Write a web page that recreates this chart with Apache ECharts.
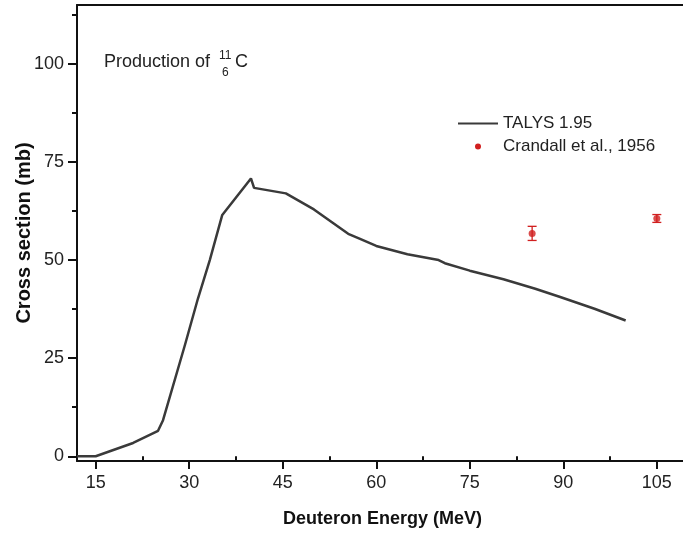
<!DOCTYPE html>
<html>
<head>
<meta charset="utf-8">
<script src="https://cdn.jsdelivr.net/npm/echarts@6/dist/echarts.min.js"></script>
<style>
html,body{margin:0;padding:0;background:#fff;}
#chart{width:683px;height:536px;}
</style>
</head>
<body>
<div id="chart"></div>
<script>
// TALYS 1.95 curve (Deuteron energy in MeV, cross section in mb)
var talysEnergy = [12, 15, 21, 25, 25.8, 29.3, 31.4, 33.3, 35.3, 39.9, 40.4, 45.5, 50, 55.5, 57.4, 60, 65, 70, 71, 75, 80.4, 85.5, 89.5, 95, 100];
var talysXS     = [0, 0, 3.4, 6.5, 9.2, 28.3, 40.2, 50, 61.5, 70.8, 68.4, 67.0, 62.9, 56.7, 55.4, 53.6, 51.5, 50.0, 49.2, 47.3, 45.1, 42.7, 40.6, 37.6, 34.6];
// Crandall et al., 1956 experimental points
var expEnergy = [85, 105];
var expXS     = [56.8, 60.6];
var expErr    = [1.8, 1.0];
// Axis ticks
var xTickLabels = [15, 30, 45, 60, 75, 90, 105];
var xMinorTicks = [22.5, 37.5, 52.5, 67.5, 82.5, 97.5];
var yTickLabels = [0, 25, 50, 75, 100];
var yMinorTicks = [12.5, 37.5, 62.5, 87.5, 112.5];

var FONT = "'Liberation Sans', Arial, sans-serif";
var AXC = '#111';
var RED = '#d11f1f';

var talysData = talysEnergy.map(function (e, i) { return [e, talysXS[i]]; });
var expData = expEnergy.map(function (e, i) { return [e, expXS[i]]; });
var errData = expEnergy.map(function (e, i) { return [e, expXS[i], expXS[i] - expErr[i], expXS[i] + expErr[i]]; });

var chart = echarts.init(document.getElementById('chart'));
var xMin = 12, xMax = 110, yMin = -1.2, yMax = 115;

var option = {
  animation: false,
  backgroundColor: '#fff',
  grid: { left: 77, width: 611, top: 5, height: 456, containLabel: false, outerBoundsMode: 'none' },
  xAxis: [
    {
      type: 'value', min: xMin, max: xMax, position: 'bottom',
      name: 'Deuteron Energy (MeV)', nameLocation: 'middle', nameGap: 49,
      nameTextStyle: { fontFamily: FONT, fontSize: 18, fontWeight: 'bold', color: '#111' },
      axisLine: { show: true, onZero: false, lineStyle: { color: AXC, width: 2 } },
      axisTick: { show: true, inside: false, length: 8, customValues: xTickLabels, lineStyle: { color: AXC, width: 2 } },
      axisLabel: { show: true, customValues: xTickLabels, margin: 13, fontFamily: FONT, fontSize: 18, color: '#222' },
      splitLine: { show: false }
    },
    {
      type: 'value', min: xMin, max: xMax, position: 'bottom',
      axisLine: { show: false },
      axisTick: { show: true, length: 4, customValues: xMinorTicks, lineStyle: { color: AXC, width: 2 } },
      axisLabel: { show: false },
      splitLine: { show: false }
    },
    {
      type: 'value', min: xMin, max: xMax, position: 'top',
      axisLine: { show: true, onZero: false, lineStyle: { color: AXC, width: 2 } },
      axisTick: { show: false }, axisLabel: { show: false }, splitLine: { show: false }
    }
  ],
  yAxis: [
    {
      type: 'value', min: yMin, max: yMax, position: 'left',
      name: 'Cross section (mb)', nameLocation: 'middle', nameGap: 43, nameMoveOverlap: false,
      nameTextStyle: { fontFamily: FONT, fontSize: 20, fontWeight: 'bold', color: '#111' },
      axisLine: { show: true, onZero: false, lineStyle: { color: AXC, width: 2 } },
      axisTick: { show: true, length: 9, customValues: yTickLabels, lineStyle: { color: AXC, width: 2 } },
      axisLabel: { show: true, customValues: yTickLabels, margin: 13, fontFamily: FONT, fontSize: 18, color: '#222' },
      splitLine: { show: false }
    },
    {
      type: 'value', min: yMin, max: yMax, position: 'left',
      axisLine: { show: false },
      axisTick: { show: true, length: 5, customValues: yMinorTicks, lineStyle: { color: AXC, width: 2 } },
      axisLabel: { show: false },
      splitLine: { show: false }
    }
  ],
  legend: {
    orient: 'vertical', left: 457, top: 115, padding: 0,
    itemWidth: 40, itemHeight: 6, itemGap: 6,
    textStyle: { fontFamily: FONT, fontSize: 17, color: '#222' },
    data: [
      { name: 'TALYS 1.95', itemStyle: { color: 'rgba(0,0,0,0)', borderWidth: 0 } },
      { name: 'Crandall et al., 1956', icon: 'circle' }
    ]
  },
  graphic: [
    { type: 'text', style: { x: 104, y: 62, text: 'Production of', font: '18px ' + FONT, fill: '#222', verticalAlign: 'middle' } },
    { type: 'text', style: { x: 219, y: 56, text: '11', font: '12px ' + FONT, fill: '#222', verticalAlign: 'middle' } },
    { type: 'text', style: { x: 222, y: 73, text: '6', font: '12px ' + FONT, fill: '#222', verticalAlign: 'middle' } },
    { type: 'text', style: { x: 235, y: 62, text: 'C', font: '18px ' + FONT, fill: '#222', verticalAlign: 'middle' } }
  ],
  series: [
    {
      name: 'TALYS 1.95', type: 'line', data: talysData, symbol: 'none',
      xAxisIndex: 0, yAxisIndex: 0,
      lineStyle: { color: '#3a3a3a', width: 2.5 }, itemStyle: { color: '#3a3a3a' }
    },
    {
      name: 'Crandall et al., 1956', type: 'custom', data: errData,
      xAxisIndex: 0, yAxisIndex: 0,
      renderItem: function (params, api) {
        var x = api.value(0);
        var pLo = api.coord([x, api.value(2)]);
        var pHi = api.coord([x, api.value(3)]);
        var w = 4.5;
        var st = { stroke: RED, lineWidth: 1.3 };
        return {
          type: 'group',
          children: [
            { type: 'line', shape: { x1: pLo[0], y1: pLo[1], x2: pHi[0], y2: pHi[1] }, style: st },
            { type: 'line', shape: { x1: pLo[0] - w, y1: pLo[1], x2: pLo[0] + w, y2: pLo[1] }, style: st },
            { type: 'line', shape: { x1: pHi[0] - w, y1: pHi[1], x2: pHi[0] + w, y2: pHi[1] }, style: st }
          ]
        };
      },
      itemStyle: { color: RED }
    },
    {
      name: 'Crandall et al., 1956', type: 'scatter', data: expData,
      xAxisIndex: 0, yAxisIndex: 0,
      symbol: 'circle', symbolSize: 7, itemStyle: { color: RED }
    }
  ]
};
chart.setOption(option);
</script>
</body>
</html>
